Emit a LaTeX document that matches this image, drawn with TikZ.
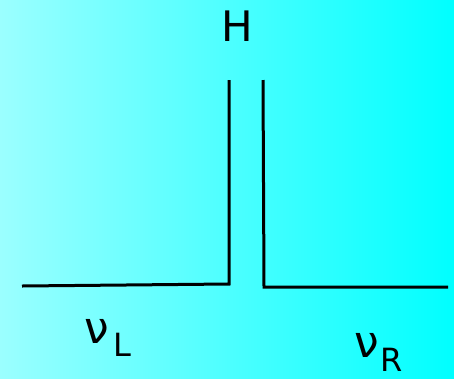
\documentclass[tikz,border=0pt]{standalone}
\usepackage{fontspec}
\setmainfont{DejaVu Sans}
\definecolor{bgleft}{RGB}{155,255,255}
\definecolor{bgright}{RGB}{0,255,255}
\tikzset{
  wire/.style={line width=3pt, line join=miter},
  lbl/.style={inner sep=0pt, text=black},
}
\begin{document}
\begin{tikzpicture}[x=1pt,y=-1pt]
\shade[left color=bgleft, right color=bgright] (0,0) rectangle (454,378);
\useasboundingbox (0,0) rectangle (454,378);
\coordinate (l0) at (22,286);
\coordinate (l1) at (229,284);
\coordinate (l2) at (229,80);
\coordinate (r0) at (263,80);
\coordinate (r1) at (264,287);
\coordinate (r2) at (448,287);
\draw[wire] (l0) -- (l1) -- (l2);
\draw[wire] (r0) -- (r1) -- (r2);
\node[lbl, font=\fontsize{42}{42}\selectfont] (H) at (237,26) {H};
\node[lbl, font=\fontsize{44}{44}\selectfont] (nuL) at (97,331) {ν};
\node[lbl, font=\fontsize{32}{32}\selectfont] (L) at (122,345) {L};
\node[lbl, font=\fontsize{44}{44}\selectfont] (nuR) at (367,345) {ν};
\node[lbl, font=\fontsize{32}{32}\selectfont] (R) at (392,360) {R};
\end{tikzpicture}
\end{document}
